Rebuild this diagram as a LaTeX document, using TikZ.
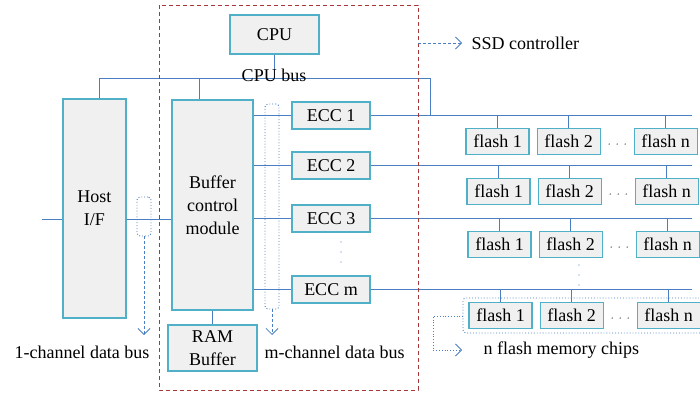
\documentclass[tikz,border=0pt]{standalone}
\usepackage{fontspec}
\setmainfont{Liberation Serif}
\usepackage{tikz}
\usetikzlibrary{
  arrows.meta,   % 开口箭头
  calc,          % 坐标计算
  positioning    % 节点相对定位
}
\definecolor{boxline}{HTML}{4FB0C8}
\definecolor{boxfill}{HTML}{EFF0EF}
\definecolor{busblue}{HTML}{4A7EC2}
\definecolor{ctrlred}{HTML}{A8373A}
\tikzset{
  unit box/.style={
    draw=boxline,
    fill=boxfill,
    line width=1.1pt,
    inner sep=0pt,
    align=center
  },
  ecc box/.style={
    unit box,
    minimum width=78pt,
    minimum height=27pt
  },
  flash box/.style={
    unit box,
    minimum width=63pt,
    minimum height=26pt
  },
  bus/.style={
    draw=busblue,
    line width=0.8pt
  },
  group frame/.style={
    draw=busblue,
    dotted,
    line width=0.9pt,
    rounded corners=3pt
  },
  hint arrow/.style={
    draw=busblue,
    densely dashed,
    line width=0.8pt,
    -{Straight Barb[length=6pt,width=12pt]}
  },
  dot mark/.style={
    circle,
    fill=busblue,
    inner sep=0pt,
    minimum size=1.4pt
  }
}

\begin{document}
\begin{tikzpicture}[x=1pt, y=-1pt, font=\fontsize{18}{23}\selectfont]
    \useasboundingbox (0,0) rectangle (700,393);

    % --- 控制器内部模块 ---
    \node[unit box, minimum width=89pt, minimum height=39pt] (cpu) at (274.5,34.5) {CPU};
    \node[unit box, minimum width=63pt, minimum height=219pt] (host) at (94.5,208.5) {Host\\I/F};
    \node[unit box, minimum width=81pt, minimum height=210pt] (buf) at (212.5,205) {Buffer\\control\\module};
    \node[unit box, minimum width=89pt, minimum height=46pt] (ram) at (212.5,348) {RAM\\Buffer};

    % ECC 模块
    \node[ecc box] (ecc1) at (331,115.5) {ECC 1};
    \node[ecc box] (ecc2) at (331,165.5) {ECC 2};
    \node[ecc box] (ecc3) at (331,218.5) {ECC 3};
    \node[ecc box] (eccm) at (331,289.5) {ECC m};

    % --- CPU 总线 ---
    \coordinate (busL) at (99,78);
    \coordinate (busR) at (430,78);
    \coordinate (busB) at (199,78);
    \draw[bus] (cpu.south) -- (cpu.south |- busL);
    \draw[bus] (busL |- host.north) -- (busL) -- (busR) -- (busR |- ecc1.east);
    \draw[bus] (busB) -- (busB |- buf.north);
    \node at (274,75) {CPU bus};

    % --- 主机数据通路 ---
    \coordinate (din) at (42,219);
    \draw[bus] (din) -- (din -| host.west);
    \draw[bus] (host.east |- din) -- (buf.west |- din);
    \draw[bus] (buf.south) -- (ram.north);

    % 缓冲模块到各 ECC
    \foreach \e in {ecc1,ecc2,ecc3,eccm}
      \draw[bus] (buf.east |- \e.west) -- (\e.west);

    % --- 各通道闪存 ---
    \foreach \e/\r/\dx in {ecc1/1/0, ecc2/2/1, ecc3/3/2, eccm/m/3} {
      \coordinate (row\r) at ($(\e.east -| 0,0)+(497.5+\dx,0)$);
      \draw[bus] (\e.east) -- ($(\e.east -| 0,0)+(692,0)$);
      \node[flash box, below=12pt of row\r] (f\r a) {flash 1};
      \node[flash box, right=7pt of f\r a] (f\r b) {flash 2};
      \node[flash box, right=33pt of f\r b] (f\r n) {flash n};
      \foreach \f in {a,b,n}
        \draw[bus] (f\r\f.north) -- (f\r\f.north |- \e.east);
      \foreach \k in {-8,0,8}
        \node[dot mark, fill=black!75] at ($(f\r b.east)!0.5!(f\r n.west)+(\k,3)$) {};
    }

    % 竖向省略号
    \foreach \k in {0,10,20} {
      \node[dot mark] at (341,242+\k) {};
      \node[dot mark] at (579,265+\k) {};
    }

    % --- SSD 控制器边框 ---
    \draw[ctrlred, line width=0.9pt, dash pattern=on 4pt off 3pt] (159,5) rectangle (418,390);
    \coordinate (ssdtip) at (462,43);
    \draw[hint arrow] (418,43) -- (ssdtip);
    \node[anchor=west] at (468,43) {SSD controller};

    % --- 数据总线标注 ---
    \node[group frame, minimum width=14pt, minimum height=39pt] (onech) at (144,216.5) {};
    \node[group frame, minimum width=14pt, minimum height=205pt] (mch) at (272,206.5) {};
    \draw[hint arrow] (onech.south) -- (onech.south |- 0,335);
    \draw[hint arrow] (mch.south) -- (mch.south |- 0,335);
    \node at (82,352) {1-channel data bus};
    \node[anchor=west] at (261,352) {m-channel data bus};

    % --- 一组闪存芯片 ---
    \draw[group frame] (705,298) -- (463,298) -- (463,333) -- (705,333);
    \draw[hint arrow, dotted, rounded corners=0pt] (463,316) -- (433,316) -- (433,350) -- (462,350);
    \node[anchor=west] at (480,350) {n flash memory chips};

  \end{tikzpicture}
\end{document}
